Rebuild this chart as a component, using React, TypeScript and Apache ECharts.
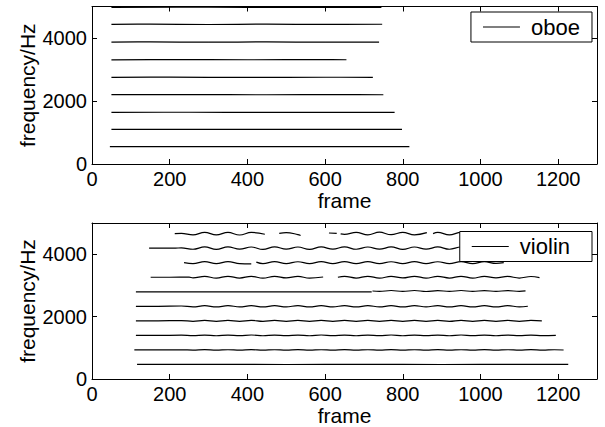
import React, { useEffect, useRef } from "react";
import * as echarts from "echarts";

// ---------- axes ----------
const xMin = 0;
const xMax = 1300;
const xInterval = 200;
const yMin = 0;
const yMax = 5000;
const yInterval = 2000;

// ---------- oboe partials: [frame, frequency Hz] ----------
const oboeH1: number[][] = [[46, 549], [200, 550], [400, 549], [600, 550], [817, 549]];
const oboeH2: number[][] = [[50, 1101], [250, 1102], [450, 1100], [650, 1101], [798, 1100]];
const oboeH3: number[][] = [[50, 1641], [250, 1643], [450, 1640], [650, 1642], [779, 1641]];
const oboeH4: number[][] = [[50, 2200], [250, 2203], [450, 2198], [650, 2201], [750, 2199]];
const oboeH5: number[][] = [[50, 2752], [200, 2756], [400, 2750], [600, 2754], [723, 2751]];
const oboeH6: number[][] = [[50, 3308], [200, 3312], [400, 3309], [600, 3313], [655, 3310]];
const oboeH7: number[][] = [[50, 3870], [150, 3876], [300, 3868], [450, 3876], [600, 3868], [739, 3872]];
const oboeH8: number[][] = [[50, 4432], [150, 4440], [300, 4428], [450, 4440], [600, 4430], [747, 4436]];
const oboeH9: number[][] = [[50, 4975], [300, 4978], [500, 4972], [745, 4975]];

// ---------- violin partials: [frame, frequency Hz] ----------
const violinH1: number[][] = [[116, 466], [300, 467], [500, 465], [700, 467], [900, 465], [1100, 467], [1226, 466]];
const violinH2: number[][] = [
  [109, 932], [170, 932], [230, 936], [260, 926], [290, 939], [320, 925], [350, 938], [380, 926], [410, 939],
  [440, 925], [470, 938], [500, 926], [530, 939], [560, 925], [590, 938], [620, 926], [650, 939], [680, 925],
  [710, 938], [740, 926], [770, 939], [800, 925], [830, 938], [860, 926], [890, 939], [920, 925], [950, 938],
  [980, 926], [1010, 939], [1040, 925], [1070, 938], [1100, 926], [1130, 939], [1160, 925], [1190, 937], [1214, 930],
];
const violinH3: number[][] = [
  [113, 1398], [170, 1398], [230, 1404], [260, 1388], [290, 1409], [320, 1387], [350, 1408], [380, 1388],
  [410, 1410], [440, 1386], [470, 1409], [500, 1388], [530, 1408], [560, 1387], [590, 1410], [620, 1388],
  [650, 1409], [680, 1386], [710, 1408], [740, 1388], [770, 1410], [800, 1387], [830, 1409], [860, 1388],
  [890, 1408], [920, 1386], [950, 1410], [980, 1388], [1010, 1409], [1040, 1387], [1070, 1408], [1100, 1388],
  [1130, 1409], [1160, 1388], [1194, 1400],
];
const violinH4: number[][] = [
  [113, 1864], [170, 1864], [230, 1872], [260, 1850], [290, 1879], [320, 1849], [350, 1878], [380, 1850],
  [410, 1880], [440, 1848], [470, 1879], [500, 1850], [530, 1878], [560, 1849], [590, 1880], [620, 1850],
  [650, 1879], [680, 1848], [710, 1878], [740, 1850], [770, 1880], [800, 1849], [830, 1879], [860, 1850],
  [890, 1878], [920, 1848], [950, 1880], [980, 1850], [1010, 1879], [1040, 1849], [1070, 1878], [1100, 1850],
  [1130, 1876], [1158, 1862],
];
const violinH5: number[][] = [
  [113, 2330], [170, 2330], [230, 2340], [260, 2311], [290, 2350], [320, 2310], [350, 2351], [380, 2312],
  [410, 2349], [440, 2309], [470, 2350], [500, 2311], [530, 2351], [560, 2310], [590, 2349], [620, 2312],
  [650, 2350], [680, 2309], [710, 2351], [740, 2311], [770, 2349], [800, 2310], [830, 2350], [860, 2312],
  [890, 2351], [920, 2309], [950, 2350], [980, 2311], [1010, 2349], [1040, 2310], [1070, 2350], [1100, 2312],
  [1122, 2332],
];
const violinH6a: number[][] = [[113, 2794], [300, 2795], [500, 2793], [720, 2795]];
const violinH6b: number[][] = [
  [722, 2820], [740, 2806], [770, 2836], [800, 2806], [830, 2836], [860, 2804], [890, 2834], [920, 2806],
  [950, 2836], [980, 2806], [1010, 2834], [1040, 2806], [1070, 2834], [1100, 2808], [1116, 2822],
];
const violinH7a: number[][] = [
  [151, 3262], [200, 3262], [250, 3264], [260, 3240], [290, 3290], [320, 3235], [350, 3292], [380, 3236],
  [410, 3290], [440, 3232], [470, 3292], [500, 3238], [530, 3290], [560, 3235], [595, 3270],
];
const violinH7b: number[][] = [
  [633, 3262], [650, 3290], [680, 3236], [710, 3292], [740, 3235], [770, 3290], [800, 3238], [830, 3292],
  [860, 3234], [890, 3290], [920, 3236], [950, 3292], [980, 3235], [1010, 3290], [1040, 3238], [1070, 3288],
  [1100, 3236], [1130, 3286], [1152, 3250],
];
const violinH8a: number[][] = [[237, 3728], [260, 3700], [290, 3760], [320, 3698], [350, 3762], [380, 3700], [410, 3690]];
const violinH8b: number[][] = [
  [423, 3745], [440, 3698], [470, 3760], [500, 3700], [530, 3758], [560, 3698], [590, 3762], [620, 3700],
  [650, 3760], [680, 3696], [710, 3760], [740, 3700], [770, 3758], [800, 3698], [830, 3762], [860, 3700],
  [890, 3758], [920, 3700], [950, 3760], [980, 3698], [1010, 3758], [1040, 3705], [1060, 3730],
];
const violinH9: number[][] = [
  [147, 4194], [180, 4192], [215, 4196], [230, 4200], [260, 4158], [290, 4232], [320, 4155], [350, 4235],
  [380, 4160], [410, 4230], [440, 4152], [470, 4236], [500, 4160], [530, 4230], [560, 4155], [590, 4232],
  [620, 4160], [650, 4235], [680, 4158], [710, 4230], [740, 4160], [770, 4232], [800, 4155], [830, 4230],
  [860, 4160], [890, 4232], [920, 4158], [950, 4230], [980, 4160], [1010, 4228], [1040, 4165], [1080, 4200],
];
const violinH10a: number[][] = [
  [213, 4660], [230, 4665], [260, 4618], [290, 4702], [320, 4620], [350, 4700], [380, 4615], [410, 4698], [445, 4640],
];
const violinH10b: number[][] = [[482, 4670], [500, 4690], [530, 4630], [537, 4600]];
const violinH10c: number[][] = [[610, 4680], [630, 4670]];
const violinH10d: number[][] = [
  [640, 4650], [650, 4635], [680, 4700], [710, 4620], [740, 4705], [770, 4625], [800, 4700], [830, 4620], [862, 4690],
];
const violinH10e: number[][] = [
  [878, 4660], [890, 4700], [920, 4620], [950, 4700], [980, 4625], [1010, 4695], [1040, 4620], [1080, 4680],
];

const oboeLines = [oboeH1, oboeH2, oboeH3, oboeH4, oboeH5, oboeH6, oboeH7, oboeH8, oboeH9];
const violinLines = [
  violinH1, violinH2, violinH3, violinH4, violinH5, violinH6a, violinH6b, violinH7a, violinH7b,
  violinH8a, violinH8b, violinH9, violinH10a, violinH10b, violinH10c, violinH10d, violinH10e,
];

const FONT = "'Liberation Sans', Arial, Helvetica, sans-serif";
const TICK_FONT = 20;
const NAME_FONT = 21;
const plain = (v: number) => String(v);

function makeX(gridIndex: number, nameGap: number) {
  return [
    {
      type: "value",
      gridIndex,
      min: xMin,
      max: xMax,
      interval: xInterval,
      name: "frame",
      nameLocation: "middle",
      nameGap,
      nameMoveOverlap: false,
      nameTextStyle: { fontSize: NAME_FONT, color: "#000", fontFamily: FONT },
      axisLine: { show: true, onZero: false, lineStyle: { color: "#000", width: 1 } },
      axisTick: { show: true, inside: true, length: 5, lineStyle: { color: "#000" } },
      axisLabel: { fontSize: TICK_FONT, color: "#000", fontFamily: FONT, margin: 5, showMaxLabel: false, formatter: plain },
      splitLine: { show: false },
    },
    {
      type: "value",
      gridIndex,
      position: "top",
      min: xMin,
      max: xMax,
      interval: xInterval,
      axisLine: { show: true, onZero: false, lineStyle: { color: "#000", width: 1 } },
      axisTick: { show: true, inside: true, length: 5, lineStyle: { color: "#000" } },
      axisLabel: { show: false },
      splitLine: { show: false },
    },
  ];
}

function makeY(gridIndex: number) {
  return [
    {
      type: "value",
      gridIndex,
      min: yMin,
      max: yMax,
      interval: yInterval,
      name: "frequency/Hz",
      nameLocation: "middle",
      nameRotate: 90,
      nameGap: 54,
      nameMoveOverlap: false,
      nameTextStyle: { fontSize: NAME_FONT, color: "#000", fontFamily: FONT },
      axisLine: { show: true, onZero: false, lineStyle: { color: "#000", width: 1 } },
      axisTick: { show: true, inside: true, length: 5, lineStyle: { color: "#000" } },
      axisLabel: { fontSize: TICK_FONT, color: "#000", fontFamily: FONT, margin: 5, showMaxLabel: false, formatter: plain },
      splitLine: { show: false },
    },
    {
      type: "value",
      gridIndex,
      position: "right",
      min: yMin,
      max: yMax,
      interval: yInterval,
      axisLine: { show: true, onZero: false, lineStyle: { color: "#000", width: 1 } },
      axisTick: { show: true, inside: true, length: 5, lineStyle: { color: "#000" } },
      axisLabel: { show: false },
      splitLine: { show: false },
    },
  ];
}

function lineSeries(name: string, data: number[][], xi: number, yi: number) {
  return {
    type: "line",
    name,
    xAxisIndex: xi,
    yAxisIndex: yi,
    data,
    symbol: "none",
    smooth: 0.4,
    silent: true,
    color: "#000",
    lineStyle: { color: "#000", width: 1.2 },
    itemStyle: { color: "#000" },
  };
}

function makeLegend(name: string, top: number, padRight: number) {
  return {
    data: [{ name, icon: "rect" }],
    right: 13,
    top,
    orient: "vertical",
    itemWidth: 37,
    itemHeight: 1,
    padding: [4, padRight, 4, 12],
    backgroundColor: "#fff",
    borderColor: "#000",
    borderWidth: 1,
    borderRadius: 0,
    selectedMode: false,
    formatter: " {name}",
    itemStyle: { color: "#000" },
    textStyle: { fontSize: 22, color: "#000", fontFamily: FONT },
    z: 10,
  };
}

export default function App() {
  const ref = useRef<HTMLDivElement>(null);
  useEffect(() => {
    if (!ref.current) return;
    const chart = echarts.init(ref.current, undefined, { renderer: "svg" });
    const option: any = {
      animation: false,
      backgroundColor: "#fff",
      grid: [
        { left: 92, top: 6.5, width: 505, height: 157.5 },
        { left: 92, top: 223, width: 505, height: 158 },
      ],
      xAxis: [...makeX(0, 26), ...makeX(1, 26)],
      yAxis: [...makeY(0), ...makeY(1)],
      legend: [makeLegend("oboe", 12, 12), makeLegend("violin", 231.5, 22)],
      series: [
        ...oboeLines.map((d) => lineSeries("oboe", d, 0, 0)),
        ...violinLines.map((d) => lineSeries("violin", d, 2, 2)),
      ],
    };
    chart.setOption(option);
    return () => chart.dispose();
  }, []);
  return (
    <div
      ref={ref}
      style={{ position: "fixed", left: 0, top: 0, width: 605, height: 427, background: "#fff" }}
    />
  );
}
